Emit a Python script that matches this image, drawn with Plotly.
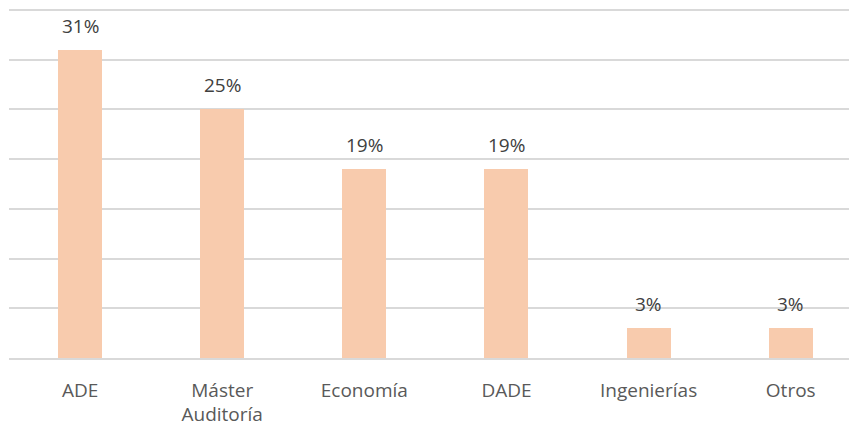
import plotly.graph_objects as go

# Distribution of respondents by study background (percent)
categories = ["ADE", "Máster<br>Auditoría", "Economía", "DADE", "Ingenierías", "Otros"]
values = [31, 25, 19, 19, 3, 3]
value_labels = [f"{v}%" for v in values]

BAR_COLOR = "#F8CBAD"
GRID_COLOR = "#D9D9D9"
FONT = "Open Sans"

fig = go.Figure(
    go.Bar(
        x=list(range(len(categories))),
        y=values,
        width=0.31,
        marker=dict(color=BAR_COLOR, line=dict(width=0)),
        hoverinfo="skip",
    )
)

# value labels above each bar
for i, (v, lbl) in enumerate(zip(values, value_labels)):
    fig.add_annotation(
        x=i, y=v, text=lbl, showarrow=False,
        yanchor="bottom", yshift=9,
        font=dict(family=FONT, size=19, color="#404040"),
    )

fig.update_layout(
    width=849, height=427,
    margin=dict(l=9, r=0, t=8, b=69),
    paper_bgcolor="white", plot_bgcolor="white",
    showlegend=False,
    bargap=0,
)
fig.update_xaxes(
    range=[-0.5, 5.41],
    tickmode="array",
    tickvals=list(range(len(categories))),
    ticktext=categories,
    tickfont=dict(family=FONT, size=19, color="#595959"),
    ticks="", ticklabelstandoff=14,
    showgrid=False, zeroline=False, automargin=False,
    showline=True, linecolor=GRID_COLOR, linewidth=1.5,
)
fig.update_yaxes(
    range=[0, 35.2], tickmode="array", tickvals=[5, 10, 15, 20, 25, 30, 35],
    showticklabels=False, automargin=False,
    showgrid=True, gridcolor=GRID_COLOR, gridwidth=1.5,
    zeroline=False,
)

fig.write_html("out.html")
